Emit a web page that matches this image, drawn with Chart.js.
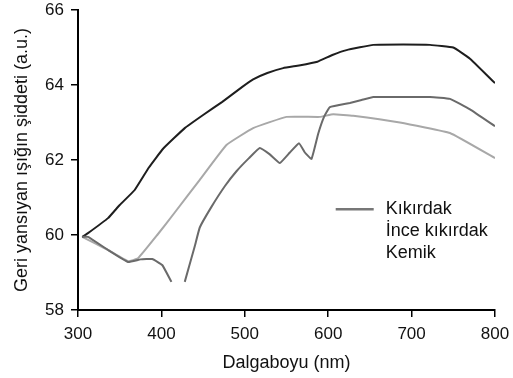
<!DOCTYPE html>
<html>
<head>
<meta charset="utf-8">
<script src="https://cdn.jsdelivr.net/npm/chart.js@4"></script>
<style>
  html, body { margin: 0; padding: 0; background: #fff; }
  #wrap { width: 513px; height: 378px; }
</style>
</head>
<body>
<div id="wrap"><canvas id="chart" width="513" height="378"></canvas></div>
<script>
// values (wavelength in nm, intensity in a.u.)
const seriesNames = ['Kıkırdak', 'İnce kıkırdak', 'Kemik'];

const darkNm = [305, 312, 336, 350, 368, 385, 402, 428, 450, 473, 497, 510, 527, 546, 565, 587, 605, 622, 654, 690, 722, 750, 770, 794, 800];
const darkVal = [59.95, 60.05, 60.45, 60.8, 61.2, 61.8, 62.3, 62.85, 63.2, 63.55, 63.95, 64.15, 64.32, 64.45, 64.52, 64.62, 64.8, 64.93, 65.07, 65.08, 65.07, 65.0, 64.7, 64.18, 64.05];

const midNm = [305, 312, 336, 360, 375, 389, 401, 412, 418, 428, 440, 446, 460, 476, 490, 505, 518, 530, 542, 554, 565, 572, 580, 588, 595, 602, 626, 640, 654, 690, 722, 746, 770, 800];
const midVal = [59.95, 59.95, 59.6, 59.28, 59.35, 59.36, 59.2, 58.75, null, 58.75, 59.7, 60.2, 60.75, 61.3, 61.7, 62.05, 62.32, 62.15, 61.92, 62.2, 62.45, 62.2, 62.03, 62.7, 63.15, 63.41, 63.52, 63.6, 63.68, 63.68, 63.68, 63.63, 63.35, 62.9];

const lightNm = [305, 336, 360, 372, 395, 416, 446, 478, 510, 550, 590, 606, 630, 686, 746, 800];
const lightVal = [59.95, 59.6, 59.3, 59.38, 60.0, 60.6, 61.47, 62.4, 62.85, 63.15, 63.15, 63.22, 63.18, 63.0, 62.72, 62.05];

const xTicks = [300, 400, 500, 600, 700, 800];
const yTicks = [58, 60, 62, 64, 66];

const toPoints = (xs, ys) => xs.map((x, i) => ({ x, y: ys[i] }));

// legend drawn inside the plot: sample line only for the first entry
const innerLegend = {
  id: 'innerLegend',
  afterDraw(chart) {
    const { ctx, chartArea } = chart;
    const lx = chartArea.left + chartArea.width * 0.618;
    const ty = chartArea.top + chartArea.height * 0.664;
    ctx.save();
    ctx.strokeStyle = '#777';
    ctx.lineWidth = 2.5;
    ctx.beginPath();
    ctx.moveTo(lx, ty);
    ctx.lineTo(lx + 38, ty);
    ctx.stroke();
    ctx.fillStyle = '#111';
    ctx.font = '18px "Liberation Sans", Arial, sans-serif';
    ctx.textBaseline = 'middle';
    seriesNames.forEach((name, i) => {
      ctx.fillText(name, lx + 50, ty + i * 22);
    });
    ctx.restore();
  }
};

const tickFont = { family: '"Liberation Sans", Arial, sans-serif', size: 17 };
const titleFont = { family: '"Liberation Sans", Arial, sans-serif', size: 18 };

new Chart(document.getElementById('chart'), {
  type: 'line',
  data: {
    datasets: [
      {
        label: seriesNames[0],
        data: toPoints(midNm, midVal),
        borderColor: '#6a6a6a',
        borderWidth: 2,
        pointRadius: 0,
        tension: 0.1,
        spanGaps: false
      },
      {
        label: seriesNames[1],
        data: toPoints(darkNm, darkVal),
        borderColor: '#1e1e1e',
        borderWidth: 2,
        pointRadius: 0,
        tension: 0.1
      },
      {
        label: seriesNames[2],
        data: toPoints(lightNm, lightVal),
        borderColor: '#a8a8a8',
        borderWidth: 2,
        pointRadius: 0,
        tension: 0.1
      }
    ]
  },
  options: {
    responsive: false,
    animation: false,
    layout: { padding: { top: 10, right: 18, left: 0, bottom: 0 } },
    plugins: {
      legend: { display: false },
      tooltip: { enabled: false }
    },
    scales: {
      x: {
        type: 'linear',
        min: 300,
        max: 800,
        afterBuildTicks: s => { s.ticks = xTicks.map(v => ({ value: v })); },
        afterFit: s => { s.height = 68; s.paddingLeft = 0; s.paddingRight = 0; },
        ticks: { color: '#111', font: tickFont, padding: 7, maxRotation: 0 },
        grid: { display: true, drawOnChartArea: false, drawTicks: true, tickLength: 7, color: '#000', lineWidth: 1.5 },
        border: { display: true, color: '#000', width: 2 },
        title: { display: true, text: 'Dalgaboyu (nm)', color: '#111', font: titleFont, padding: { top: 0, bottom: 4 } }
      },
      y: {
        min: 58,
        max: 66,
        afterBuildTicks: s => { s.ticks = yTicks.map(v => ({ value: v })); },
        afterFit: s => { s.width = 78; s.paddingTop = 0; s.paddingBottom = 0; },
        ticks: { color: '#111', font: tickFont, padding: 7 },
        grid: { display: true, drawOnChartArea: false, drawTicks: true, tickLength: 7, color: '#000', lineWidth: 1.5 },
        border: { display: true, color: '#000', width: 2 },
        title: { display: true, text: 'Geri yansıyan ışığın şiddeti (a.u.)', color: '#111', font: titleFont, padding: { top: 11, bottom: 0 } }
      }
    }
  },
  plugins: [innerLegend]
});
</script>
</body>
</html>
